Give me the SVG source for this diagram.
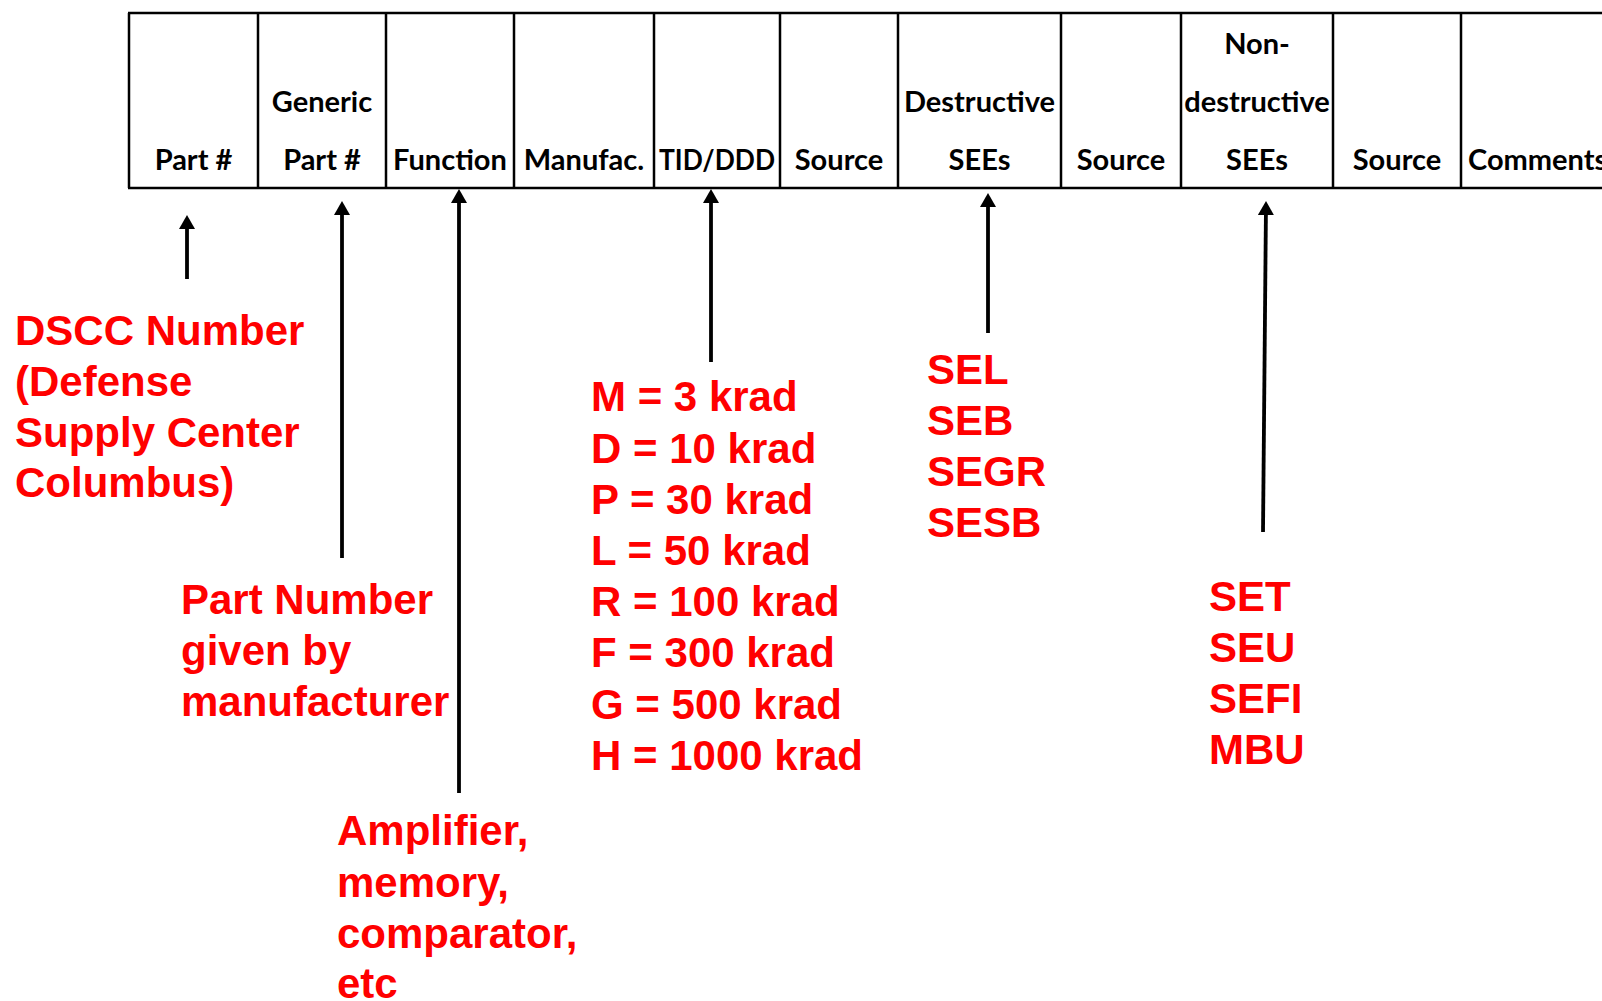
<svg xmlns="http://www.w3.org/2000/svg" width="1602" height="1001" viewBox="0 0 1602 1001">
<style>
.hdr{font-family:Lato,"Liberation Sans",sans-serif;font-weight:bold;font-size:29px;fill:#000;text-anchor:middle}
.red{font-family:"Liberation Sans",Arial,sans-serif;font-weight:bold;font-size:42px;fill:#FF0000}
.grid{stroke:#000;stroke-width:2.5;fill:none}
.conn{stroke:#000;stroke-width:3.8;fill:none;marker-end:url(#ah)}
</style>
<defs>
<marker id="ah" viewBox="0 0 14 16" refX="0" refY="8" markerWidth="14" markerHeight="16" markerUnits="userSpaceOnUse" orient="auto">
<path d="M0,0 L14,8 L0,16 z" fill="#000"/>
</marker>
</defs>
<rect width="1602" height="1001" fill="#fff"/>
<g id="table">
<path class="grid" d="M128,13 H1602 M128,188 H1602 M129,13 V188 M258,13 V188 M386,13 V188 M514,13 V188 M654,13 V188 M780,13 V188 M898,13 V188 M1061,13 V188 M1181,13 V188 M1333,13 V188 M1461,13 V188"/>
<text class="hdr" x="193.5" y="170">Part #</text>
<text class="hdr" x="322" y="112">Generic</text>
<text class="hdr" x="322" y="170">Part #</text>
<text class="hdr" x="450" y="170">Function</text>
<text class="hdr" x="584" y="170">Manufac.</text>
<text class="hdr" x="717" y="170" textLength="116" lengthAdjust="spacingAndGlyphs">TID/DDD</text>
<text class="hdr" x="839" y="170">Source</text>
<text class="hdr" x="979.5" y="112">Destructive</text>
<text class="hdr" x="979.5" y="170">SEEs</text>
<text class="hdr" x="1121" y="170">Source</text>
<text class="hdr" x="1257" y="54">Non-</text>
<text class="hdr" x="1257" y="112">destructive</text>
<text class="hdr" x="1257" y="170">SEEs</text>
<text class="hdr" x="1397" y="170">Source</text>
<text class="hdr" x="1468" y="170" style="text-anchor:start">Comments</text>
</g>
<g id="connectors">
<line class="conn" x1="187" y1="279" x2="187" y2="229"/>
<line class="conn" x1="342" y1="558" x2="342" y2="215"/>
<line class="conn" x1="459" y1="793" x2="459" y2="203"/>
<line class="conn" x1="711" y1="362" x2="711" y2="203"/>
<line class="conn" x1="988" y1="333" x2="988" y2="207"/>
<line class="conn" x1="1263" y1="532" x2="1265.9" y2="215"/>
</g>
<g id="dscc">
<text class="red"><tspan x="15" y="345">DSCC Number</tspan><tspan x="15" y="396">(Defense</tspan><tspan x="15" y="447">Supply Center</tspan><tspan x="15" y="497">Columbus)</tspan></text>
</g>
<g id="partnumber">
<text class="red"><tspan x="181" y="614">Part Number</tspan><tspan x="181" y="665">given by</tspan><tspan x="181" y="716">manufacturer</tspan></text>
</g>
<g id="function">
<text class="red"><tspan x="337" y="845">Amplifier,</tspan><tspan x="337" y="897">memory,</tspan><tspan x="337" y="948">comparator,</tspan><tspan x="337" y="998">etc</tspan></text>
</g>
<g id="tid">
<text class="red"><tspan x="591" y="411">M = 3 krad</tspan><tspan x="591" y="463">D = 10 krad</tspan><tspan x="591" y="514">P = 30 krad</tspan><tspan x="591" y="565">L = 50 krad</tspan><tspan x="591" y="616">R = 100 krad</tspan><tspan x="591" y="667">F = 300 krad</tspan><tspan x="591" y="719">G = 500 krad</tspan><tspan x="591" y="770">H = 1000 krad</tspan></text>
</g>
<g id="destructive">
<text class="red"><tspan x="927" y="384">SEL</tspan><tspan x="927" y="435">SEB</tspan><tspan x="927" y="486">SEGR</tspan><tspan x="927" y="537">SESB</tspan></text>
</g>
<g id="nondestructive">
<text class="red"><tspan x="1209" y="611">SET</tspan><tspan x="1209" y="662">SEU</tspan><tspan x="1209" y="713">SEFI</tspan><tspan x="1209" y="764">MBU</tspan></text>
</g>
</svg>
